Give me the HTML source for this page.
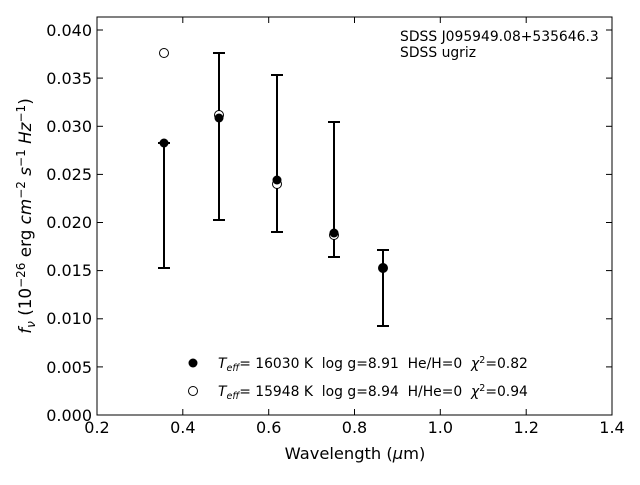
<!DOCTYPE html>
<html><head><meta charset="utf-8"><style>body{margin:0;background:#fff}text{white-space:pre}</style></head><body>
<svg width="640" height="480" xmlns="http://www.w3.org/2000/svg" font-family="DejaVu Sans, sans-serif" xml:space="preserve">
<rect width="640" height="480" fill="#fff"/>
<rect x="97" y="17" width="515" height="398" fill="none" stroke="#000" stroke-width="1"/>
<g stroke="#000" stroke-width="1">
<line x1="97" y1="415" x2="97" y2="409"/><line x1="182.8" y1="415" x2="182.8" y2="409"/><line x1="268.7" y1="415" x2="268.7" y2="409"/><line x1="354.5" y1="415" x2="354.5" y2="409"/><line x1="440.3" y1="415" x2="440.3" y2="409"/><line x1="526.2" y1="415" x2="526.2" y2="409"/>
<line x1="182.8" y1="17" x2="182.8" y2="23"/><line x1="268.7" y1="17" x2="268.7" y2="23"/><line x1="354.5" y1="17" x2="354.5" y2="23"/><line x1="440.3" y1="17" x2="440.3" y2="23"/><line x1="526.2" y1="17" x2="526.2" y2="23"/>
<line x1="97" y1="366.9" x2="103" y2="366.9"/><line x1="97" y1="318.8" x2="103" y2="318.8"/><line x1="97" y1="270.6" x2="103" y2="270.6"/><line x1="97" y1="222.5" x2="103" y2="222.5"/><line x1="97" y1="174.4" x2="103" y2="174.4"/><line x1="97" y1="126.3" x2="103" y2="126.3"/><line x1="97" y1="78.1" x2="103" y2="78.1"/><line x1="97" y1="30" x2="103" y2="30"/>
<line x1="612" y1="366.9" x2="606" y2="366.9"/><line x1="612" y1="318.8" x2="606" y2="318.8"/><line x1="612" y1="270.6" x2="606" y2="270.6"/><line x1="612" y1="222.5" x2="606" y2="222.5"/><line x1="612" y1="174.4" x2="606" y2="174.4"/><line x1="612" y1="126.3" x2="606" y2="126.3"/><line x1="612" y1="78.1" x2="606" y2="78.1"/><line x1="612" y1="30" x2="606" y2="30"/>
</g>
<g font-size="16" fill="#000" text-anchor="middle">
<text x="97" y="433">0.2</text><text x="182.8" y="433">0.4</text><text x="268.7" y="433">0.6</text><text x="354.5" y="433">0.8</text><text x="440.3" y="433">1.0</text><text x="526.2" y="433">1.2</text><text x="612" y="433">1.4</text>
</g>
<g font-size="16" fill="#000" text-anchor="end">
<text x="92" y="421">0.000</text><text x="92" y="373">0.005</text><text x="92" y="324">0.010</text><text x="92" y="276">0.015</text><text x="92" y="228">0.020</text><text x="92" y="180">0.025</text><text x="92" y="132">0.030</text><text x="92" y="84">0.035</text><text x="92" y="36">0.040</text>
</g>
<text x="355" y="459" font-size="16.3" text-anchor="middle">Wavelength (<tspan font-style="italic">μ</tspan>m)</text>
<text transform="translate(31,216) rotate(-90)" font-size="16.8" text-anchor="middle"><tspan font-style="italic">f<tspan font-size="12" dy="4">ν</tspan></tspan><tspan dy="-4"> (10</tspan><tspan font-size="12" dy="-6">−26</tspan><tspan dy="6"> erg </tspan><tspan font-style="italic">cm</tspan><tspan font-size="12" dy="-6">−2</tspan><tspan dy="6" font-style="italic"> s</tspan><tspan font-size="12" dy="-6">−1</tspan><tspan dy="6" font-style="italic"> Hz</tspan><tspan font-size="12" dy="-6">−1</tspan><tspan dy="6">)</tspan></text>
<text x="400" y="41" font-size="13.9">SDSS J095949.08+535646.3</text>
<text x="400" y="57" font-size="13.9">SDSS ugriz</text>
<g stroke="#000" stroke-width="2">
<line x1="164" y1="143" x2="164" y2="268"/><line x1="158" y1="143" x2="170" y2="143"/><line x1="158" y1="268" x2="170" y2="268"/>
<line x1="219" y1="53" x2="219" y2="220"/><line x1="213" y1="53" x2="225" y2="53"/><line x1="213" y1="220" x2="225" y2="220"/>
<line x1="277" y1="75" x2="277" y2="232"/><line x1="271" y1="75" x2="283" y2="75"/><line x1="271" y1="232" x2="283" y2="232"/>
<line x1="334" y1="122" x2="334" y2="257"/><line x1="328" y1="122" x2="340" y2="122"/><line x1="328" y1="257" x2="340" y2="257"/>
<line x1="383" y1="250" x2="383" y2="326"/><line x1="377" y1="250" x2="389" y2="250"/><line x1="377" y1="326" x2="389" y2="326"/>
</g>
<g fill="#fff" stroke="#000" stroke-width="1">
<circle cx="164" cy="53" r="4.5"/><circle cx="219" cy="115" r="4.5"/><circle cx="277" cy="184" r="4.5"/><circle cx="334" cy="235" r="4.5"/><circle cx="383" cy="268" r="4.5"/>
</g>
<g fill="#000">
<circle cx="164" cy="143" r="4.5"/><circle cx="219" cy="118" r="4.5"/><circle cx="277" cy="180" r="4.5"/><circle cx="334" cy="233" r="4.5"/><circle cx="383" cy="268" r="4.5"/>
</g>
<circle cx="193" cy="363" r="4.5" fill="#000"/>
<circle cx="193" cy="391" r="4.5" fill="#fff" stroke="#000"/>
<text x="218" y="368" font-size="13.9"><tspan font-style="italic">T<tspan font-size="9.5" dy="3">eff</tspan></tspan><tspan dy="-3">= 16030 K  log g=8.91  He/H=0  </tspan><tspan font-style="italic">χ</tspan><tspan font-size="9.5" dy="-5">2</tspan><tspan dy="5">=0.82</tspan></text>
<text x="218" y="396" font-size="13.9"><tspan font-style="italic">T<tspan font-size="9.5" dy="3">eff</tspan></tspan><tspan dy="-3">= 15948 K  log g=8.94  H/He=0  </tspan><tspan font-style="italic">χ</tspan><tspan font-size="9.5" dy="-5">2</tspan><tspan dy="5">=0.94</tspan></text>
</svg>
</body></html>
